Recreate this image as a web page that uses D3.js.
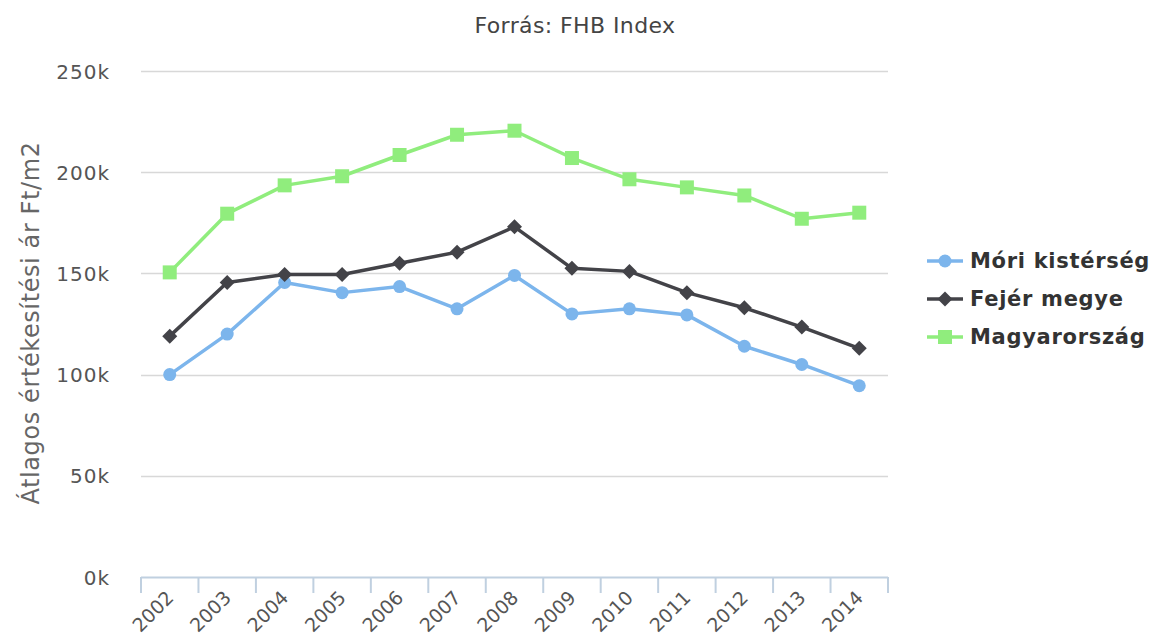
<!DOCTYPE html>
<html>
<head>
<meta charset="utf-8">
<script src="https://cdn.jsdelivr.net/npm/d3@7"></script>
<style>
  html, body { margin: 0; padding: 0; background: #fff; }
  svg { display: block; font-family: "DejaVu Sans", sans-serif; }
</style>
</head>
<body>
<svg id="chart" width="1153" height="640"></svg>
<script>
// Average selling price per m2 (thousand Ft), FHB Index
const years = ["2002","2003","2004","2005","2006","2007","2008","2009","2010","2011","2012","2013","2014"];
const mori = [100, 120, 145.5, 140.5, 143.5, 132.5, 149, 130, 132.5, 129.5, 114, 105, 94.5];
const fejer = [119, 145.5, 149.5, 149.5, 155, 160.5, 173, 152.5, 151, 140.5, 133, 123.5, 113];
const magyar = [150.5, 179.5, 193.5, 198, 208.5, 218.5, 220.5, 207, 196.5, 192.5, 188.5, 177, 180];
const seriesNames = ["Móri kistérség", "Fejér megye", "Magyarország"];
const yTicks = [0, 50, 100, 150, 200, 250];

const series = [
  { name: seriesNames[0], values: mori, color: "#7cb5ec", symbol: "circle" },
  { name: seriesNames[1], values: fejer, color: "#434348", symbol: "diamond" },
  { name: seriesNames[2], values: magyar, color: "#90ed7d", symbol: "square" }
];

const svg = d3.select("#chart");
const plot = { left: 141, right: 888, top: 71, bottom: 577 };

const x = d3.scaleBand().domain(years).range([plot.left, plot.right]);
const y = d3.scaleLinear().domain([0, 250]).range([plot.bottom, plot.top]);

// title
svg.append("text")
  .attr("x", 575).attr("y", 33)
  .attr("text-anchor", "middle")
  .attr("fill", "#444")
  .style("font-size", "22px")
  .style("letter-spacing", "0.4px")
  .text("Forrás: FHB Index");

// horizontal grid lines
svg.append("g")
  .selectAll("line")
  .data(yTicks.filter(d => d > 0))
  .join("line")
  .attr("x1", plot.left).attr("x2", plot.right)
  .attr("y1", d => Math.round(y(d)) + 0.5).attr("y2", d => Math.round(y(d)) + 0.5)
  .attr("stroke", "#d8d8d8").attr("stroke-width", 1.5);

// y axis labels
const yAxis = d3.axisLeft(y).tickValues(yTicks).tickSize(0).tickPadding(31)
  .tickFormat(d => d + "k");
svg.append("g")
  .attr("transform", `translate(${plot.left},0)`)
  .call(yAxis)
  .call(g => g.select(".domain").remove())
  .call(g => g.selectAll("text")
    .attr("fill", "#555")
    .style("font-size", "20px")
    .style("letter-spacing", "1px")
    .style("font-family", "DejaVu Sans, sans-serif")
    .attr("dy", "0.35em"));

// y axis title
svg.append("text")
  .attr("transform", "translate(39,323) rotate(-90)")
  .attr("text-anchor", "middle")
  .attr("fill", "#666")
  .style("font-size", "24px")
  .style("letter-spacing", "0.6px")
  .text("Átlagos értékesítési ár Ft/m2");

// x axis with band-edge ticks
const xg = svg.append("g").attr("transform", `translate(0,${plot.bottom})`);
xg.append("line")
  .attr("x1", plot.left).attr("x2", plot.right)
  .attr("y1", 0.5).attr("y2", 0.5)
  .attr("stroke", "#c0d0e0").attr("stroke-width", 2);
const edges = years.map(d => x(d)).concat([x.range()[1]]);
xg.selectAll("line.tick")
  .data(edges)
  .join("line")
  .attr("class", "tick")
  .attr("x1", d => d).attr("x2", d => d)
  .attr("y1", 0).attr("y2", 16)
  .attr("stroke", "#c0d0e0").attr("stroke-width", 2);
xg.selectAll("text")
  .data(years)
  .join("text")
  .attr("transform", d => `translate(${x(d) + x.bandwidth() / 2 + 5},${22}) rotate(-45)`)
  .attr("text-anchor", "end")
  .attr("fill", "#555")
  .style("font-size", "19px")
  .text(d => d);

const cx = d => x(d) + x.bandwidth() / 2;

const line = d3.line()
  .x((d, i) => cx(years[i]))
  .y(d => y(d));

// square-diamond marker (equal width and height)
const diamondPath = r => `M0,${-r}L${r},0L0,${r}L${-r},0Z`;
const markerPath = {
  circle: d3.symbol().type(d3.symbolCircle).size(Math.PI * 6.5 * 6.5)(),
  diamond: diamondPath(7.5),
  square: d3.symbol().type(d3.symbolSquare).size(196)()
};

series.forEach(s => {
  const g = svg.append("g");
  g.append("path")
    .datum(s.values)
    .attr("d", line)
    .attr("fill", "none")
    .attr("stroke", s.color)
    .attr("stroke-width", 3.5)
    .attr("stroke-linejoin", "round");
  g.selectAll("path.marker")
    .data(s.values)
    .join("path")
    .attr("class", "marker")
    .attr("d", markerPath[s.symbol])
    .attr("transform", (d, i) => `translate(${cx(years[i])},${y(d)})`)
    .attr("fill", s.color);
});

// legend
const legend = svg.append("g");
const legendRows = [261, 299, 337];
series.forEach((s, i) => {
  const row = legend.append("g").attr("transform", `translate(0,${legendRows[i]})`);
  row.append("line")
    .attr("x1", 927).attr("x2", 963)
    .attr("y1", 0).attr("y2", 0)
    .attr("stroke", s.color).attr("stroke-width", 3.5);
  row.append("path")
    .attr("d", markerPath[s.symbol])
    .attr("transform", "translate(945,0)")
    .attr("fill", s.color);
  row.append("text")
    .attr("x", 970).attr("y", 0).attr("dy", "0.35em")
    .attr("fill", "#333")
    .style("font-size", "21px")
    .style("font-weight", "bold")
    .style("letter-spacing", "0.7px")
    .text(s.name);
});
</script>
</body>
</html>
